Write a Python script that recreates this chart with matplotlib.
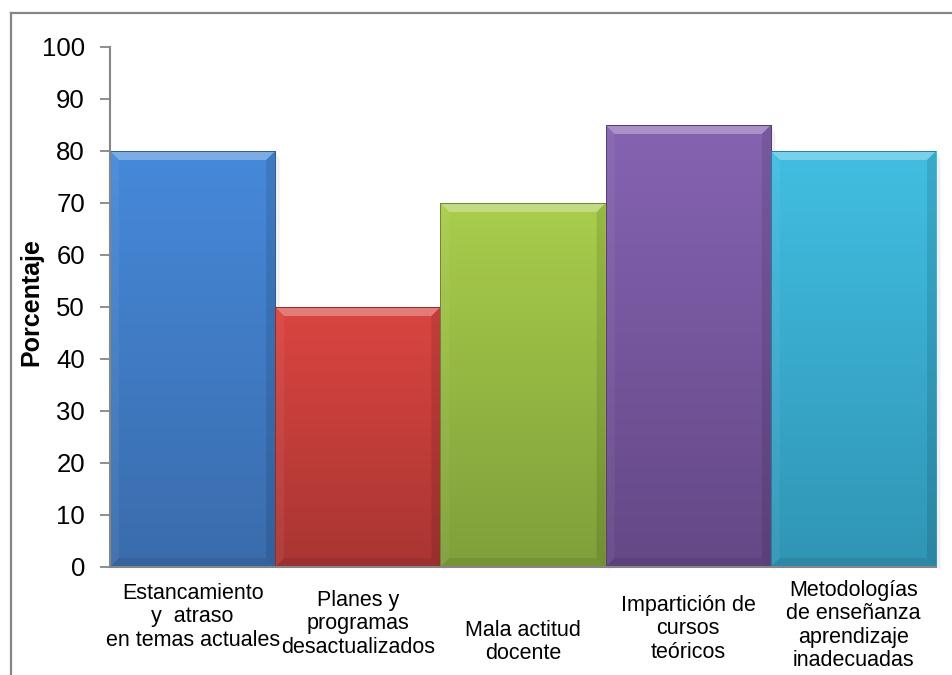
import numpy as np
import matplotlib
matplotlib.use("Agg")
import matplotlib.pyplot as plt
from matplotlib.colors import to_rgb
from matplotlib.patches import Polygon
from matplotlib.lines import Line2D

# datos
categorias = [
    "Estancamiento\ny  atraso\nen temas actuales",
    "Planes y\nprogramas\ndesactualizados",
    "Mala actitud\ndocente",
    "Impartición de\ncursos\nteóricos",
    "Metodologías\nde enseñanza\naprendizaje\ninadecuadas",
]
porcentajes = [80, 50, 70, 85, 80]

# colores (arriba, abajo) de cada barra
color_arriba = ["#4689DA", "#DA4541", "#A9CD4B", "#8663B2", "#41BEE2"]
color_abajo = ["#3A6CAC", "#A93532", "#7F9F3A", "#644886", "#3095B5"]

# bajada de cada etiqueta bajo el eje (pixeles)
bajada_etiqueta = [16, 23, 53, 28, 13]

plt.rcParams["font.family"] = ["Liberation Sans", "DejaVu Sans"]

W, H = 953, 675
fig = plt.figure(figsize=(W / 100, H / 100), dpi=100)
ax = fig.add_axes([110 / W, (H - 567) / H, (936 - 110) / W, (567 - 47) / H])

x = np.arange(len(categorias))
barras = ax.bar(x, porcentajes, width=1.0, facecolor="none", edgecolor="none", zorder=3)

ax.set_xlim(-0.5, 4.5)
ax.set_ylim(0, 100)

# tamaño del bisel en unidades de datos
ax_w = (936 - 110)
ax_h = (567 - 47)
bx = 9 / (ax_w / 5.0)
by = 9 / (ax_h / 100.0)

for i, b in enumerate(barras):
    x0, w, h = b.get_x(), b.get_width(), b.get_height()
    x1 = x0 + w
    c1 = np.array(to_rgb(color_arriba[i]))
    c2 = np.array(to_rgb(color_abajo[i]))
    t = np.linspace(0, 1, 200)[:, None]
    grad = (c1 * (1 - t) + c2 * t)[:, None, :]
    ax.imshow(grad, extent=(x0, x1, 0, h), aspect="auto", zorder=2, interpolation="bilinear")

    # sombra suave a la derecha
    ax.add_patch(Polygon([(x1, 0), (x1 + bx * 0.5, -by * 0.3), (x1 + bx * 0.5, h - by), (x1, h)],
                         closed=True, facecolor="black", alpha=0.06, edgecolor="none", zorder=1,
                         clip_on=False))

    # bisel: arriba claro, lados y abajo oscuros
    ax.add_patch(Polygon([(x0, h), (x1, h), (x1 - bx, h - by), (x0 + bx, h - by)],
                         closed=True, facecolor="white", alpha=0.30, edgecolor="none", zorder=4))
    ax.add_patch(Polygon([(x0, h), (x0 + bx, h - by), (x0 + bx, by), (x0, 0)],
                         closed=True, facecolor="white", alpha=0.05, edgecolor="none", zorder=4))
    ax.add_patch(Polygon([(x1, h), (x1 - bx, h - by), (x1 - bx, by), (x1, 0)],
                         closed=True, facecolor="black", alpha=0.10, edgecolor="none", zorder=4))
    ax.add_patch(Polygon([(x0, 0), (x0 + bx, by), (x1 - bx, by), (x1, 0)],
                         closed=True, facecolor="black", alpha=0.08, edgecolor="none", zorder=4))
    # borde fino
    ax.add_patch(Polygon([(x0, 0), (x0, h), (x1, h), (x1, 0)], closed=True,
                         facecolor="none", edgecolor=c2 * 0.85, linewidth=0.7, zorder=5))

ax.set_xlim(-0.5, 4.5)
ax.set_ylim(0, 100)

ax.set_yticks(np.arange(0, 101, 10))
ax.tick_params(axis="y", direction="out", length=7, width=1.3, color="#868686",
               labelsize=18.5, pad=11)
ax.set_xticks([])
for s in ["top", "right"]:
    ax.spines[s].set_visible(False)
for s in ["left", "bottom"]:
    ax.spines[s].set_color("#868686")
    ax.spines[s].set_linewidth(1.5)
    ax.spines[s].set_zorder(6)

ax.set_ylabel("Porcentaje", fontsize=18, fontweight="bold")
ax.yaxis.set_label_coords((43 - 110) / ax_w, (567 - 302) / ax_h)

# etiquetas de categoría bajo cada barra
for i, (xi, txt) in enumerate(zip(x, categorias)):
    ax.annotate(txt, xy=(xi, 0), xycoords=("data", "axes fraction"),
                xytext=(0, -bajada_etiqueta[i]), textcoords="offset pixels",
                ha="center", va="top", fontsize=15.5, linespacing=1.15)

# marco del gráfico
fig.add_artist(Line2D([11 / W, 1.0], [1 - 13 / H, 1 - 13 / H], color="#868686", linewidth=1.6))
fig.add_artist(Line2D([11 / W, 11 / W], [0, 1 - 13 / H], color="#868686", linewidth=1.6))

fig.savefig("out.png", dpi=100)
